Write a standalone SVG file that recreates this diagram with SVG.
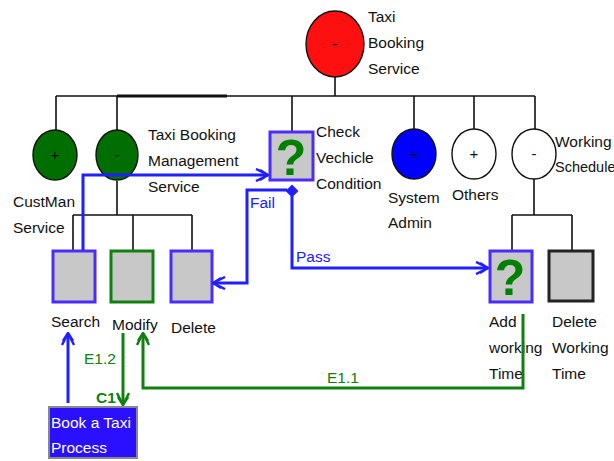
<svg xmlns="http://www.w3.org/2000/svg" width="614" height="461" viewBox="0 0 614 461">
<defs>
<style>
text{font-family:"Liberation Sans",Arial,sans-serif;font-size:15.5px;fill:#111}
.tree{stroke:#111;stroke-width:1.6;fill:none}
.circ{stroke:#111;stroke-width:1.4}
.sign{text-anchor:middle;font-size:15px}
.box{fill:#c8c8c8;stroke-width:3}
.q{font-weight:bold;font-size:50px;fill:#008000;text-anchor:middle}
.blue{stroke:#2020ff;stroke-width:3;fill:none}
.green{stroke:#108010;stroke-width:3;fill:none}
.bl{fill:#2020ff}
.gl{fill:#108010}
</style>
<marker id="ab" markerUnits="userSpaceOnUse" viewBox="0 -7 14 14" refX="13" refY="0" markerWidth="14" markerHeight="14" orient="auto">
<path d="M1,-6 L13,0 L1,6 M5,-5 L13,0 L5,5" fill="none" stroke="#2020ff" stroke-width="2.5"/>
</marker>
<marker id="ag" markerUnits="userSpaceOnUse" viewBox="0 -7 14 14" refX="13" refY="0" markerWidth="14" markerHeight="14" orient="auto">
<path d="M1,-6 L13,0 L1,6 M5,-5 L13,0 L5,5" fill="none" stroke="#108010" stroke-width="2.5"/>
</marker>
</defs>
<rect width="614" height="461" fill="#fff"/>

<g id="tree-lines" class="tree">
<path d="M335,77 V96 M56,96 H535"/>
<path d="M117,96 H227" stroke-width="3.2"/>
<path d="M56,96 V130 M117,96 V130 M292,96 V131 M414,96 V129 M474,96 V129 M535,96 V129"/>
<path d="M117,181 V215 M73,215 H192 M73,215 V250 M133,215 V250 M192,215 V250"/>
<path d="M534,179 V215 M512,215 H572 M512,215 V250 M572,215 V250"/>
</g>

<g id="taxi-booking-service">
<ellipse cx="335" cy="44" rx="29" ry="33" fill="#ff1010" class="circ"/>
<text x="335" y="49" class="sign">-</text>
<text x="368" y="22">Taxi</text>
<text x="368" y="48">Booking</text>
<text x="368" y="74">Service</text>
</g>

<g id="custman-service">
<ellipse cx="55" cy="155" rx="22" ry="25" fill="#006e00" class="circ"/>
<text x="55" y="160" class="sign">+</text>
<text x="13" y="207">CustMan</text>
<text x="13" y="233">Service</text>
</g>

<g id="taxi-booking-management-service">
<ellipse cx="117" cy="155" rx="21" ry="25" fill="#006e00" class="circ"/>
<text x="117" y="160" class="sign">-</text>
<text x="148" y="140">Taxi Booking</text>
<text x="148" y="166">Management</text>
<text x="148" y="192">Service</text>
</g>

<g id="check-vehicle-condition">
<rect x="270" y="132" width="43" height="48" class="box" stroke="#4a2cff"/>
<text x="291" y="175" class="q">?</text>
<path d="M287,191 L292,186 L297,191 L292,196 Z" fill="#2020ff" stroke="#2020ff" stroke-width="2"/>
<text x="316" y="137">Check</text>
<text x="316" y="163">Vechicle</text>
<text x="316" y="189">Condition</text>
</g>

<g id="system-admin">
<ellipse cx="414" cy="154" rx="22" ry="25" fill="#0000ff" class="circ"/>
<text x="414" y="159" class="sign">+</text>
<text x="388" y="203">System</text>
<text x="388" y="228">Admin</text>
</g>

<g id="others">
<ellipse cx="474" cy="154" rx="22" ry="25" fill="#fff" class="circ"/>
<text x="474" y="159" class="sign">+</text>
<text x="452" y="200">Others</text>
</g>

<g id="working-schedule">
<ellipse cx="534" cy="154" rx="22" ry="25" fill="#fff" class="circ"/>
<text x="534" y="159" class="sign">-</text>
<text x="555" y="147" font-size="14.5">Working</text>
<text x="555" y="172" style="font-size:14.5px">Schedule</text>
</g>

<g id="search">
<rect x="53" y="251" width="42" height="51" class="box" stroke="#4a2cff"/>
<text x="51" y="327">Search</text>
</g>
<g id="modify">
<rect x="111" y="251" width="42" height="51" class="box" stroke="#108010"/>
<text x="112" y="330">Modify</text>
</g>
<g id="delete">
<rect x="171" y="251" width="41" height="51" class="box" stroke="#4a2cff"/>
<text x="171" y="333">Delete</text>
</g>

<g id="add-working-time">
<rect x="490" y="251" width="42" height="51" class="box" stroke="#4a2cff"/>
<text x="510" y="295" class="q">?</text>
<text x="489" y="327">Add</text>
<text x="489" y="353">working</text>
<text x="489" y="379">Time</text>
</g>
<g id="delete-working-time">
<rect x="549" y="251" width="44" height="50" class="box" stroke="#222" stroke-width="2"/>
<text x="552" y="327">Delete</text>
<text x="552" y="353">Working</text>
<text x="552" y="379">Time</text>
</g>

<g id="book-a-taxi-process">
<rect x="49" y="407" width="88" height="51" fill="#2a10ff" stroke="#888" stroke-width="2"/>
<text x="51" y="428" style="fill:#fff">Book a Taxi</text>
<text x="51" y="453" style="fill:#fff">Process</text>
</g>

<g id="connectors">
<path d="M83,250 V175 H268" class="blue" marker-end="url(#ab)"/>
<path d="M287,190 H247 V283 H213" class="blue" marker-end="url(#ab)"/>
<path d="M292,196 V268 H488" class="blue" marker-end="url(#ab)"/>
<path d="M68,403 V333" class="blue" marker-end="url(#ab)"/>
<path d="M523,314 V388 H143 V333" class="green" marker-end="url(#ag)"/>
<path d="M123,333 V405" class="green" marker-end="url(#ag)"/>
<text x="250" y="208" class="bl">Fail</text>
<text x="296" y="262" class="bl">Pass</text>
<text x="327" y="383" class="gl">E1.1</text>
<text x="84" y="364" class="gl">E1.2</text>
<text x="96" y="403" class="gl" font-weight="bold">C1</text>
</g>
</svg>
